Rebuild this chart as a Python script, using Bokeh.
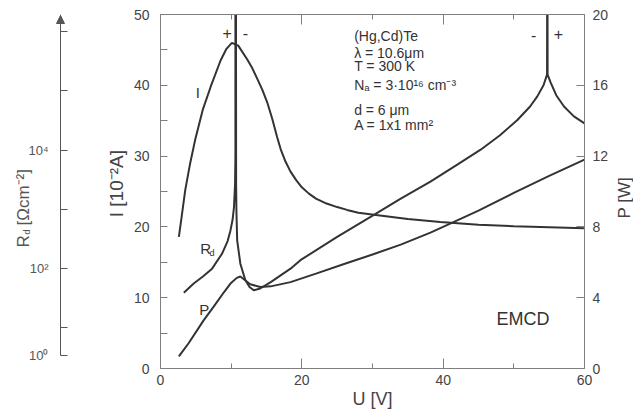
import math
from bokeh.plotting import figure
from bokeh.models import Range1d, LinearAxis, LogScale, FixedTicker, Label, Arrow, NormalHead
from bokeh.layouts import row
from bokeh.embed import file_html
from bokeh.resources import INLINE

# ---------------- data ----------------
# current I [10^-2 A]  (left axis)
u_current = [2.6, 3.0, 3.5, 4.2, 4.95, 6.0, 7.1, 8.5, 9.3, 10.1, 11.0, 12.3, 13.0, 13.7,
             14.4, 15.1, 15.8, 16.5, 17.0, 17.7, 18.4, 19.2, 20.0, 21.0, 22.0, 23.5, 25.0,
             26.4, 28.0, 30.2, 35.0, 39.6, 45.0, 50.0, 55.0, 60.0]
current = [18.6, 21.5, 25.2, 29.0, 32.5, 36.6, 39.8, 43.5, 45.1, 46.0, 45.6, 43.6, 42.4, 40.9,
           39.4, 37.6, 35.3, 32.7, 31.0, 29.2, 27.8, 26.6, 25.6, 24.7, 24.0, 23.3, 22.8,
           22.4, 22.0, 21.7, 21.1, 20.7, 20.3, 20.1, 19.95, 19.8]

# power P [W]  (right axis)
u_power = [2.6, 4.0, 6.1, 7.5, 9.0, 9.9, 10.8, 11.3, 11.8, 12.7, 14.1, 15.6, 18.4,
           22.0, 26.4, 30.0, 34.0, 38.2, 41.3, 45.0, 50.0, 55.0, 60.0]
power = [0.68, 1.44, 2.72, 3.48, 4.32, 4.8, 5.12, 5.2, 5.04, 4.76, 4.6, 4.64, 4.88,
         5.36, 5.96, 6.44, 7.0, 7.68, 8.24, 8.92, 9.92, 10.88, 11.8]

# differential resistance R_d [Ohm cm^-2]  (far-left log axis)
u_rd = [3.3, 4.7, 6.0, 7.3, 8.7, 9.5, 9.9, 10.2, 10.4, 10.55, 10.6, 10.6, 10.68, 10.7,
        10.75, 10.85, 11.3, 12.0, 12.6, 13.2, 14.1, 15.6, 18.4, 19.8, 25.0, 30.2, 34.0,
        38.2, 42.0, 45.3, 48.0, 50.5, 52.3, 53.3, 54.2, 54.7, 54.72, 54.76, 54.78,
        55.2, 56.0, 57.1, 58.5, 60.0]
rd = [39.1, 56.0, 73.7, 99.7, 177.8, 291.7, 441.6, 667, 1094, 2642, 7943, 1e7, 1e7, 2642,
      879, 300, 121, 64.3, 48.8, 43.1, 46.1, 59.2, 99.7, 138.8, 344, 809, 1524,
      2951, 5717, 10190, 17660, 32360, 54700, 80350, 125000, 188800, 1e7, 1e7, 188800,
      139300, 84900, 54700, 37200, 28250]

u_ticks = [0, 20, 40, 60]
u_minor = [10, 30, 50]
i_ticks = [0, 10, 20, 30, 40, 50]
i_minor = [5, 15, 25, 35, 45]
p_ticks = [0, 4, 8, 12, 16, 20]
rd_decades = [1, 2, 3, 4, 5, 6]
rd_tick_labels = {2: "10²", 4: "10⁴"}
rd_axis_break = 0.53            # broken-axis position of the "10⁰" tick (log10 units)
rd_log_range = (0.3125, 6.292)  # log10 R_d at the frame bottom / top

info_lines = ["(Hg,Cd)Te", "λ = 10.6μm", "T = 300 K", "Nₐ = 3·10¹⁶ cm⁻³", "d = 6 μm", "A = 1x1 mm²"]

# ---------------- layout / style ----------------
info_x = 27.4
info_y = [46.9, 44.6, 42.7, 40.1, 36.5, 34.4]

FONT = "Liberation Sans"
INK = "#333333"
AX = "#7f7f7f"
LBL = "#444444"
RDC = "#555555"
NBSP = "\u00a0"

FRAME_H = 354
TOP = 14
BOTTOM = 46


def style_axis(ax, tick_in, minor_in=0, size="14px"):
    ax.axis_line_color = AX
    ax.axis_line_width = 1
    ax.major_tick_line_color = AX
    ax.minor_tick_line_color = AX
    ax.major_tick_in = tick_in
    ax.major_tick_out = 0
    ax.minor_tick_in = minor_in
    ax.minor_tick_out = 0
    ax.major_label_text_font = FONT
    ax.major_label_text_font_size = size
    ax.major_label_text_color = LBL
    ax.axis_label_text_font = FONT
    ax.axis_label_text_font_style = "normal"
    ax.axis_label_text_color = LBL


def bare_figure(fw, x_range, y_range, **kw):
    f = figure(frame_width=fw, frame_height=FRAME_H, x_range=x_range, y_range=y_range,
               x_axis_type=None, y_axis_type=None, output_backend="svg", toolbar_location=None,
               min_border_top=TOP, min_border_bottom=BOTTOM, **kw)
    f.outline_line_color = None
    f.background_fill_color = "white"
    f.border_fill_color = "white"
    return f


def lab(fig, text, x, y, size="15px", align="center", baseline="middle", color=INK, **kw):
    fig.add_layout(Label(x=x, y=y, text=text, text_font=FONT, text_font_size=size,
                         text_color=color, text_align=align, text_baseline=baseline, **kw))


# ---------------- main chart ----------------
p = bare_figure(424, Range1d(0, 60), Range1d(0, 50),
                extra_y_ranges={"p": Range1d(0, 20),
                                "rd": Range1d(10 ** rd_log_range[0], 10 ** rd_log_range[1])},
                extra_y_scales={"rd": LogScale()},
                min_border_left=80, min_border_right=27)

bottom = LinearAxis(ticker=FixedTicker(ticks=u_ticks, minor_ticks=u_minor), axis_label="U [V]")
style_axis(bottom, 10, 5)
bottom.major_label_standoff = 6
bottom.axis_label_standoff = 1
bottom.axis_label_text_font_size = "18px"
p.add_layout(bottom, "below")

top = LinearAxis(ticker=FixedTicker(ticks=u_ticks, minor_ticks=u_minor),
                 major_label_overrides={t: "" for t in u_ticks})
style_axis(top, 10, 5, size="0px")
top.major_label_standoff = 0
p.add_layout(top, "above")

left = LinearAxis(ticker=FixedTicker(ticks=i_ticks, minor_ticks=i_minor),
                  axis_label=NBSP * 3 + "I [10⁻²A]")
style_axis(left, 7, 7)
left.major_label_standoff = 11
left.axis_label_standoff = 4
left.axis_label_text_font_size = "19px"
p.add_layout(left, "left")

right = LinearAxis(y_range_name="p", ticker=FixedTicker(ticks=p_ticks))
style_axis(right, 8)
right.major_label_standoff = 8
p.add_layout(right, "right")

p.line(u_current, current, line_color=INK, line_width=2)
p.line(u_power, power, y_range_name="p", line_color=INK, line_width=2)
p.line(u_rd, rd, y_range_name="rd", line_color=INK, line_width=2)

lab(p, "I", 5.3, 39.0)
lab(p, "R", 6.4, 16.95)
lab(p, "d", 7.3, 16.3, size="9px")
lab(p, "P", 6.2, 8.3)
lab(p, "EMCD", 51.3, 7.06, size="18px")
lab(p, "+", 9.43, 47.4, size="16px")
lab(p, "-", 12.0, 47.4, size="16px")
lab(p, "-", 52.8, 47.1, size="16px")
lab(p, "+", 56.3, 47.2, size="16px")
for t, y in zip(info_lines, info_y):
    lab(p, t, info_x, y, size="14px", align="left")

# ---------------- right title strip: "P [W]" reading upwards ----------------
R_W = 22
r = bare_figure(R_W, Range1d(0, R_W), Range1d(0, 50), min_border_left=0, min_border_right=0)
lab(r, "P [W]", 13, 21.2, size="17px", align="left", baseline="alphabetic", color=LBL,
    angle=math.pi / 2)

# ---------------- R_d axis (separate figure, axis drawn at a fixed location) ----------------
Q_W = 80
q = bare_figure(Q_W, Range1d(0, Q_W), Range1d(*rd_log_range), min_border_left=0, min_border_right=0)

AXIS_X = 60
ppu = FRAME_H / (rd_log_range[1] - rd_log_range[0])


def qy(page_y):
    """page pixel row -> log10 units of the R_d axis figure"""
    return rd_log_range[0] + (TOP + FRAME_H - page_y) / ppu


overrides = {d: rd_tick_labels.get(d, "") for d in rd_decades}
overrides[rd_axis_break] = "10⁰"
rax = LinearAxis(ticker=FixedTicker(ticks=[rd_axis_break] + rd_decades),
                 bounds=(rd_axis_break, rd_log_range[1]), major_label_overrides=overrides,
                 fixed_location=AXIS_X)
style_axis(rax, 7, 0, size="13px")
rax.axis_line_color = RDC
rax.major_tick_line_color = RDC
rax.major_label_text_color = RDC
rax.major_label_standoff = 12
q.add_layout(rax, "left")

q.add_layout(Arrow(end=NormalHead(size=8, fill_color=RDC, line_color=RDC),
                   x_start=AXIS_X, y_start=rd_log_range[1] - 0.3, x_end=AXIS_X, y_end=qy(15),
                   line_color=RDC, line_width=1))

lab(q, "R", 23, qy(247), size="17px", align="left", baseline="alphabetic", color=RDC, angle=math.pi / 2)
lab(q, "d", 26.5, qy(234), size="9px", align="left", baseline="alphabetic", color=RDC, angle=math.pi / 2)
lab(q, "[Ωcm⁻²]", 23, qy(225), size="17px", align="left", baseline="alphabetic", color=RDC,
    angle=math.pi / 2)

layout = row(q, p, r)
open("out.html", "w").write(file_html(layout, INLINE))
